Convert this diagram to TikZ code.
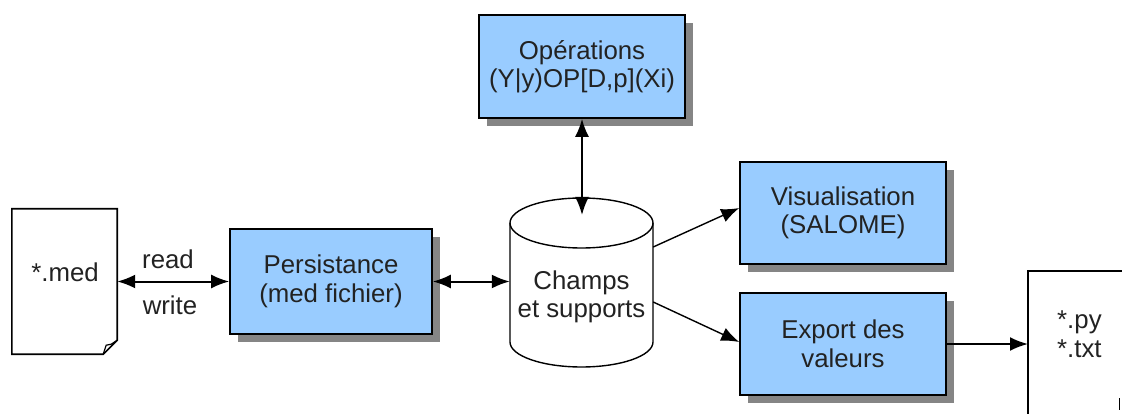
\documentclass[tikz,border=0pt]{standalone}
\usepackage{fontspec}
\setmainfont{Liberation Sans}
\usetikzlibrary{arrows.meta,shadows}
\definecolor{boxblue}{HTML}{99CCFF}
\definecolor{shadowgray}{HTML}{858585}
\definecolor{txtgray}{HTML}{222222}
\begin{document}
\begin{tikzpicture}[x=1pt,y=-1pt,
  font=\fontsize{25.8}{28.5}\selectfont,
  box/.style={draw=black, line width=1.6pt, fill=boxblue, align=center, text=txtgray,
    minimum width=206pt, minimum height=103pt, inner sep=0pt,
    drop shadow={shadow xshift=8pt, shadow yshift=-8pt, fill=shadowgray, opacity=1, draw=none}},
  ghost/.style={inner sep=0pt, draw=none},
  lbl/.style={text=txtgray, align=center, inner sep=0pt},
  outline/.style={draw=black, line width=1.6pt, fill=white},
  tip/.style={-{Latex[length=18pt,width=14pt]}},
  both/.style={{Latex[length=18pt,width=14pt]}-{Latex[length=18pt,width=14pt]}},
  conn/.style={line width=2pt},
  thin conn/.style={line width=1.4pt}
]
\useasboundingbox (0,0) rectangle (1122,414);
\clip (0,0) rectangle (1122,414);

% *.med document
\node[ghost, minimum width=105pt, minimum height=145pt] (med) at (64.5,281.5) {};
\draw[outline] (med.north west) -- (med.north east) -- ([yshift=14pt]med.south east)
  -- ([xshift=-14pt]med.south east) -- (med.south west) -- cycle;
\draw[line width=1.2pt] ([xshift=-14pt]med.south east) -- ([xshift=-11pt,yshift=9pt]med.south east)
  -- ([xshift=-6pt,yshift=10pt]med.south east) -- ([yshift=14pt]med.south east);
\node[lbl] (medtext) at (65,272) {*.med};

% boxes
\node[box, minimum width=202pt, minimum height=105pt] (pers) at (331,281.5) {Persistance\\(med fichier)};
\node[box] (ops) at (582,66.5) {Opérations\\(Y|y)OP[D,p](Xi)};
\node[box, minimum height=102pt] (vis) at (843,213) {Visualisation\\(SALOME)};
\node[box, minimum height=102pt] (exp) at (843,344) {Export des\\valeurs};

% cylinder
\node[ghost, minimum width=143pt, minimum height=169pt] (cyl) at (581.5,282.5) {};
\draw[outline, line width=1.4pt] (510,223) -- (510,342)
  arc[start angle=180, end angle=360, x radius=71.5pt, y radius=25pt] -- (653,223);
\draw[line width=1.4pt] (581.5,223) ellipse[x radius=71.5pt, y radius=25pt];
\node[lbl] (cyltext) at (581.5,297) {Champs\\et supports};
\coordinate (cyltop) at (581.5,215);

% *.py document
\node[ghost, anchor=north west, minimum width=130pt, minimum height=170pt] (py) at (1028,271) {};
\draw[line width=1.6pt] (py.south west) -- (py.north west) -- (py.north east);
\draw[line width=1pt] (1119,398) -- (1119,410);
\node[lbl, align=left, anchor=west] (pytext) at (1057,334) {*.py\\*.txt};

% labels
\node[lbl] (rd) at (168,259) {read};
\node[lbl] (wr) at (170,305) {write};

% connectors
\draw[conn, both] (med.east) -- (pers.west);
\draw[conn, both] (pers.east) -- (pers.east -| cyl.west);
\draw[conn, both] (ops.south) -- (ops.south |- cyltop);
\draw[thin conn, tip] ([yshift=35.5pt]cyl.east) -- ([yshift=5pt]vis.west);
\draw[thin conn, tip] ([yshift=-19.5pt]cyl.east) -- ([yshift=2pt]exp.west);
\draw[conn, tip] (exp.east) -- (exp.east -| py.west);
\end{tikzpicture}
\end{document}
